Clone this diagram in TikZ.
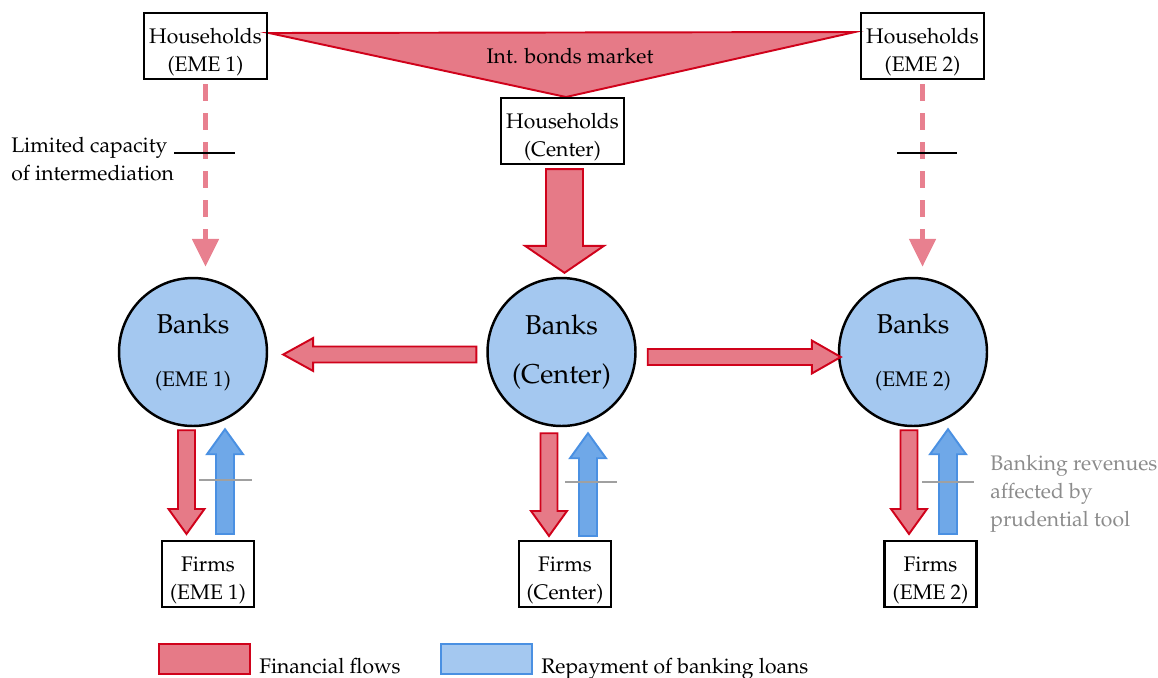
\documentclass[tikz,border=0pt]{standalone}
\usepackage[T1]{fontenc}
\usepackage{mathpazo}
\usepackage{tikz}
\usetikzlibrary{arrows.meta,calc,positioning}

\definecolor{flowfill}{RGB}{230,122,135}
\definecolor{flowline}{RGB}{208,2,27}
\definecolor{bankfill}{RGB}{164,200,240}
\definecolor{loanfill}{RGB}{111,168,232}
\definecolor{loanline}{RGB}{74,144,226}
\definecolor{dashpink}{RGB}{232,128,143}
\definecolor{toolgray}{RGB}{160,160,160}
\definecolor{notegray}{RGB}{140,140,140}

% block arrow: style, from, to, half shaft, half head, head length
\newcommand{\fatarrow}[6][]{%
  \coordinate (fa-h) at ($(#3)!#6!(#2)$);
  \draw[#1] ($(#2)!#4!90:(#3)$) -- ($(fa-h)!#4!90:(#3)$) -- ($(fa-h)!#5!90:(#3)$)
    -- (#3) -- ($(fa-h)!#5!-90:(#3)$) -- ($(fa-h)!#4!-90:(#3)$)
    -- ($(#2)!#4!-90:(#3)$) -- cycle;
}
% two lines in a box, pushed down a little
\newcommand{\boxtext}[2]{\rule{0pt}{16pt}#1\\#2}

\begin{document}
\begin{tikzpicture}[x=0.02cm,y=-0.02cm]
    \tikzset{every node/.style = {font=\fontsize{12}{16}\selectfont}}
    \tikzset{hhbox/.style = {draw,line width=1.2pt,align=center,minimum width=2.46cm,minimum height=1.32cm,inner sep=1pt}}
    \tikzset{firmbox/.style = {hhbox,minimum width=1.84cm}}
    \tikzset{bankcircle/.style = {shape=circle,draw,line width=1.4pt,fill=bankfill,align=center,minimum size=2.96cm,inner sep=0pt,font=\fontsize{15.5}{18}\selectfont}}
    \tikzset{flowarrow/.style = {draw=flowline,fill=flowfill,line width=1.1pt,line join=miter}}
    \tikzset{loanarrow/.style = {draw=loanline,fill=loanfill,line width=1.1pt,line join=miter}}
    \tikzset{weakflow/.style = {draw=dashpink,line width=0.1cm,dash pattern=on 0.34cm off 0.24cm,-{Triangle[width=0.52cm,length=0.56cm]}}}
    \tikzset{capbar/.style = {line width=1.2pt}}
    \tikzset{toolbar/.style = {draw=toolgray,line width=1.6pt}}
    \useasboundingbox (0,0) rectangle (1158,677);
    % bonds market
    \draw[flowarrow] (269,33) -- (855,32) -- (566,97) -- cycle;
    \node (mkt) at (570,56) {Int. bonds market};
    % households
    \node[hhbox] (h1) at (205.5,46) {\boxtext{Households}{(EME 1)}};
    \node[hhbox] (hc) at (562.5,131) {\boxtext{Households}{(Center)}};
    \node[hhbox] (h2) at (922.5,46) {\boxtext{Households}{(EME 2)}};
    % banks
    \node[bankcircle] (b1) at (193,352) {Banks\\[12pt]{\fontsize{12}{16}\selectfont (EME 1)}};
    \node[bankcircle] (bc) at (561.5,352) {Banks\\[10pt](Center)};
    \node[bankcircle] (b2) at (913,352) {Banks\\[12pt]{\fontsize{12}{16}\selectfont (EME 2)}};
    % firms
    \node[firmbox] (f1) at (208,574) {\boxtext{Firms}{(EME 1)}};
    \node[firmbox] (fc) at (565,574) {\boxtext{Firms}{(Center)}};
    \node[firmbox] (f2) at (930.5,574) {\boxtext{Firms}{(EME 2)}};

    % households to banks
    \draw[weakflow] ($(h1.south)+(0,4)$) -- ($(h1.south |- b1.north)+(0,-10)$);
    \draw[weakflow] ($(h2.south)+(0,4)$) -- ($(h2.south |- b2.north)+(0,-10)$);
    \draw[capbar] (174,153) -- (235,153);
    \draw[capbar] (897,153) -- (957,153);
    \node[anchor=west,align=left,inner sep=0pt] (lim) at (11,159) {Limited capacity\\of intermediation};
    \coordinate (hc-s) at ($(hc.south)+(2,4)$);
    \coordinate (hc-e) at ($(hc.south |- bc.north)+(2,-4)$);
    \fatarrow[flowarrow]{hc-s}{hc-e}{0.37cm}{0.79cm}{0.54cm}

    % center to periphery
    \coordinate (w-s) at ($(bc.west)+(-10,2.5)$);
    \coordinate (w-e) at ($(b1.east)+(15,2.5)$);
    \fatarrow[flowarrow]{w-s}{w-e}{0.16cm}{0.33cm}{0.6cm}
    \coordinate (e-s) at ($(bc.east)+(11,5)$);
    \coordinate (e-e) at ($(b2.west)+(3,5)$);
    \fatarrow[flowarrow]{e-s}{e-e}{0.16cm}{0.33cm}{0.58cm}

    % banks and firms
    \coordinate (r1-s) at ($(b1.south)+(-6.5,3)$);
    \coordinate (r1-e) at ($(f1.north)+(-21.5,-6)$);
    \fatarrow[flowarrow]{r1-s}{r1-e}{0.17cm}{0.36cm}{0.5cm}
    \coordinate (l1-s) at ($(f1.north)+(17,-6)$);
    \coordinate (l1-e) at ($(b1.south)+(32,2)$);
    \fatarrow[loanarrow]{l1-s}{l1-e}{0.18cm}{0.36cm}{0.5cm}
    \coordinate (rc-s) at ($(bc.south)+(-12.5,6)$);
    \coordinate (rc-e) at ($(fc.north)+(-16,-4)$);
    \fatarrow[flowarrow]{rc-s}{rc-e}{0.17cm}{0.36cm}{0.5cm}
    \coordinate (lc-s) at ($(fc.north)+(23,-4)$);
    \coordinate (lc-e) at ($(bc.south)+(26.5,6)$);
    \fatarrow[loanarrow]{lc-s}{lc-e}{0.18cm}{0.36cm}{0.5cm}
    \coordinate (r2-s) at ($(b2.south)+(-4,3)$);
    \coordinate (r2-e) at ($(f2.north)+(-21.5,-6)$);
    \fatarrow[flowarrow]{r2-s}{r2-e}{0.17cm}{0.36cm}{0.5cm}
    \coordinate (l2-s) at ($(f2.north)+(17.5,-6)$);
    \coordinate (l2-e) at ($(b2.south)+(35,2)$);
    \fatarrow[loanarrow]{l2-s}{l2-e}{0.18cm}{0.36cm}{0.5cm}
    \draw[toolbar] (199,480) -- (252,480);
    \draw[toolbar] (565,482) -- (617,482);
    \draw[toolbar] (922,482) -- (974,482);
    \node[anchor=west,align=left,inner sep=0pt,text=notegray] (rev) at (990,494) {Banking revenues\\affected by\\prudential tool};

    % legend
    \node[flowarrow,minimum width=1.82cm,minimum height=0.6cm,inner sep=0pt] (lf) at (204.5,659) {};
    \node[anchor=base west,inner sep=0pt] (lft) at ($(lf.east)+(8,14)$) {Financial flows};
    \node[draw=loanline,fill=bankfill,line width=1.1pt,minimum width=1.82cm,minimum height=0.6cm,inner sep=0pt] (ll) at (486.5,659) {};
    \node[anchor=base west,inner sep=0pt] (llt) at ($(ll.east)+(8,14)$) {Repayment of banking loans};
\end{tikzpicture}
\end{document}
